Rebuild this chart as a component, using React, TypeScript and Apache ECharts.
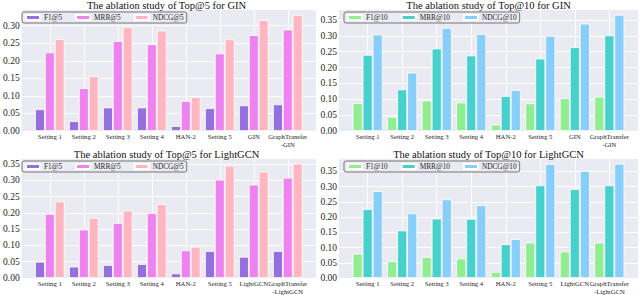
import React, { useEffect, useRef } from "react";
import * as echarts from "echarts";

const categoriesGIN = ["Setting 1", "Setting 2", "Setting 3", "Setting 4", "HAN-2", "Setting 5", "GIN", "GraphTransfer\n-GIN"];
const categoriesLGCN = ["Setting 1", "Setting 2", "Setting 3", "Setting 4", "HAN-2", "Setting 5", "LightGCN", "GraphTransfer\n-LightGCN"];

const ginTop5F1 = [0.062, 0.028, 0.067, 0.067, 0.014, 0.065, 0.073, 0.076];
const ginTop5MRR = [0.224, 0.122, 0.256, 0.247, 0.085, 0.221, 0.273, 0.289];
const ginTop5NDCG = [0.262, 0.156, 0.296, 0.286, 0.097, 0.261, 0.316, 0.331];
const ginTop10F1 = [0.088, 0.045, 0.096, 0.09, 0.02, 0.087, 0.103, 0.108];
const ginTop10MRR = [0.24, 0.131, 0.26, 0.238, 0.11, 0.228, 0.264, 0.301];
const ginTop10NDCG = [0.304, 0.184, 0.325, 0.305, 0.129, 0.3, 0.338, 0.366];
const lgcnTop5F1 = [0.05, 0.035, 0.04, 0.043, 0.014, 0.083, 0.065, 0.083];
const lgcnTop5MRR = [0.197, 0.149, 0.169, 0.199, 0.085, 0.302, 0.287, 0.308];
const lgcnTop5NDCG = [0.235, 0.185, 0.207, 0.227, 0.096, 0.345, 0.327, 0.351];
const lgcnTop10F1 = [0.08, 0.055, 0.069, 0.064, 0.02, 0.116, 0.087, 0.116];
const lgcnTop10MRR = [0.226, 0.156, 0.195, 0.194, 0.111, 0.304, 0.292, 0.304];
const lgcnTop10NDCG = [0.285, 0.212, 0.258, 0.239, 0.128, 0.374, 0.351, 0.375];

const names5 = ["F1@5", "MRR@5", "NDCG@5"];
const names10 = ["F1@10", "MRR@10", "NDCG@10"];
const colors5 = ["#9370DB", "#EE82EE", "#FFB6C1"];
const colors10 = ["#90EE90", "#48D1CC", "#87CEFA"];

const FONT = "Liberation Serif, Times New Roman, serif";
const TXT = "#262626";

type Panel = {
  title: string;
  cats: string[];
  names: string[];
  colors: string[];
  data: number[][];
  left: number;
  top: number;
};

const panels: Panel[] = [
  { title: "The ablation study of Top@5 for GIN", cats: categoriesGIN, names: names5, colors: colors5, data: [ginTop5F1, ginTop5MRR, ginTop5NDCG], left: 17, top: 9 },
  { title: "The ablation study of Top@10 for GIN", cats: categoriesGIN, names: names10, colors: colors10, data: [ginTop10F1, ginTop10MRR, ginTop10NDCG], left: 339, top: 9 },
  { title: "The ablation study of Top@5 for LightGCN", cats: categoriesLGCN, names: names5, colors: colors5, data: [lgcnTop5F1, lgcnTop5MRR, lgcnTop5NDCG], left: 17, top: 158 },
  { title: "The ablation study of Top@10 for LightGCN", cats: categoriesLGCN, names: names10, colors: colors10, data: [lgcnTop10F1, lgcnTop10MRR, lgcnTop10NDCG], left: 339, top: 158 },
];

const W = 299;
const H = 122;

export default function App() {
  const ref = useRef<HTMLDivElement>(null);
  useEffect(() => {
    if (!ref.current) return;
    const chart = echarts.init(ref.current, undefined, { renderer: "svg" });
    const grid: any[] = [];
    const xAxis: any[] = [];
    const yAxis: any[] = [];
    const series: any[] = [];
    const title: any[] = [];
    const legend: any[] = [];
    panels.forEach((p, pi) => {
      const xs = p.cats.map((_, i) => i);
      const maxV = Math.max(...p.data.flat()) * 1.05;
      grid.push({
        left: p.left,
        top: p.top,
        width: W,
        height: H,
        show: true,
        backgroundColor: "#EAEAF2",
        borderWidth: 0,
        containLabel: false,
      });
      xAxis.push({
        type: "value",
        gridIndex: pi,
        min: -0.83,
        max: 7.83,
        axisLine: { show: false },
        axisTick: { show: false, customValues: xs },
        splitLine: { show: true, lineStyle: { color: "#ffffff", width: 1 } },
        axisLabel: {
          customValues: xs,
          formatter: (v: number) => p.cats[Math.round(v)] ?? "",
          fontFamily: FONT,
          fontSize: 6.7,
          lineHeight: 7.5,
          color: TXT,
          margin: 2,
          verticalAlign: "top",
        },
      });
      yAxis.push({
        type: "value",
        gridIndex: pi,
        min: 0,
        max: maxV,
        interval: 0.05,
        axisLine: { show: false },
        axisTick: { show: false },
        splitLine: { show: true, lineStyle: { color: "#ffffff", width: 1 } },
        axisLabel: {
          showMaxLabel: false,
          formatter: (v: number) => v.toFixed(2),
          fontFamily: FONT,
          fontSize: 9.5,
          color: TXT,
          margin: 2,
        },
      });
      p.names.forEach((n, si) => {
        series.push({
          type: "bar",
          name: n,
          xAxisIndex: pi,
          yAxisIndex: pi,
          data: p.data[si].map((v, i) => [xs[i], v]),
          barWidth: "29%",
          barGap: "0%",
          itemStyle: { color: p.colors[si], borderColor: "#ffffff", borderWidth: 0.8 },
          emphasis: { disabled: true },
        });
      });
      title.push({
        text: p.title,
        left: p.left + W / 2,
        top: p.top - 9,
        textAlign: "center",
        padding: 0,
        textStyle: { fontFamily: FONT, fontSize: 10.5, lineHeight: 10, fontWeight: "normal", color: "#111" },
      });
      legend.push({
        data: p.names,
        left: p.left + 5,
        top: p.top + 3,
        orient: "horizontal",
        icon: "rect",
        itemWidth: 14,
        itemHeight: 5,
        itemGap: 13,
        padding: [2, 3, 2, 3],
        backgroundColor: "rgba(234,234,242,0.8)",
        borderColor: "#777",
        borderWidth: 1,
        borderRadius: 2,
        selectedMode: false,
        textStyle: { fontFamily: FONT, fontSize: 7.3, color: TXT, padding: [0, 0, 0, -1] },
      });
    });
    chart.setOption({ animation: false, grid, xAxis, yAxis, series, title, legend });
    return () => chart.dispose();
  }, []);
  return <div ref={ref} style={{ position: "fixed", left: 0, top: 0, width: 640, height: 295, background: "#fff" }} />;
}
